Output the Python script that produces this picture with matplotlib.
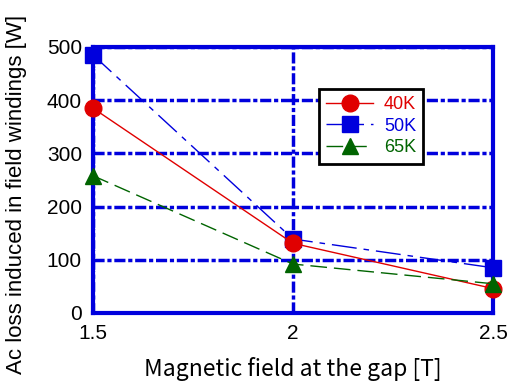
import matplotlib.pyplot as plt
from matplotlib.ticker import AutoMinorLocator

# data
field = [1.5, 2.0, 2.5]
loss_40k = [385, 131, 46]
loss_50k = [485, 139, 85]
loss_65k = [258, 92, 55]
labels = ['40K', '50K', '65K']

plt.rcParams['font.family'] = ['Liberation Sans', 'DejaVu Sans']

fig = plt.figure(figsize=(5.09, 3.88), dpi=100)
ax = fig.add_axes([93 / 509, (388 - 313) / 388, 400 / 509, 266 / 388])

blue = '#0000dd'
ax.plot(field, loss_40k, color='#e00000', lw=1, marker='o', ms=12, label=labels[0],
        zorder=5, clip_on=False)
ax.plot(field, loss_50k, color=blue, lw=1, marker='s', ms=12, label=labels[1],
        dashes=(18, 5, 4, 5), zorder=4, clip_on=False)
ax.plot(field, loss_65k, color='#006400', lw=1, marker='^', ms=12, label=labels[2],
        dashes=(12, 5), zorder=6, clip_on=False)

ax.set_xlim(1.5, 2.5)
ax.set_ylim(0, 500)
ax.set_xticks([1.5, 2, 2.5])
ax.set_xticklabels(['1.5', '2', '2.5'])
ax.set_yticks(range(0, 501, 100))

# thick blue dash-dot grid
ax.grid(True, color=blue, lw=2.5, dashes=(3.2, 0.8, 1.2, 0.8))
ax.set_axisbelow(True)
for s in ax.spines.values():
    s.set_color(blue)
    s.set_linewidth(3)

ax.xaxis.set_minor_locator(AutoMinorLocator(5))
ax.yaxis.set_minor_locator(AutoMinorLocator(5))
ax.tick_params(which='major', length=0, labelsize=15, pad=8)
ax.tick_params(which='minor', direction='in', length=3, width=1, color='white',
               top=True, right=True)

ax.set_xlabel('Magnetic field at the gap [T]', fontsize=16.5, labelpad=10,
              family=['Noto Sans CJK JP', 'DejaVu Sans'])
ax.set_ylabel('Ac loss induced in field windings [W]', fontsize=16)
ax.yaxis.set_label_coords(-0.165, 0.445)

leg = ax.legend(loc='upper left', bbox_to_anchor=((310 - 93) / 400, (313 - 80) / 266),
                frameon=True, fancybox=False, edgecolor='black', fontsize=13,
                handlelength=2.6, borderpad=0.4, labelspacing=0.25, markerscale=1.0,
                handletextpad=0.6, framealpha=1)
leg.get_frame().set_linewidth(2)
for txt, line in zip(leg.get_texts(), leg.get_lines()):
    txt.set_color(line.get_color())

fig.savefig('out.png', dpi=100)
